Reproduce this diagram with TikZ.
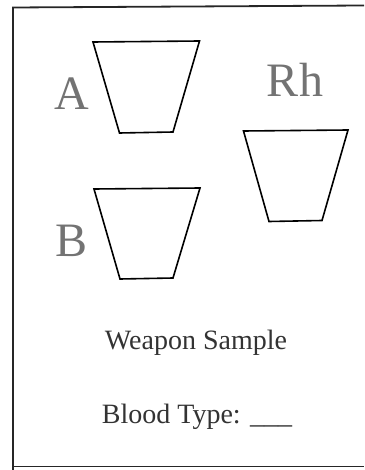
\documentclass[tikz,border=0pt]{standalone}
\usepackage{fontspec}
\setmainfont{Liberation Serif}
\begin{document}
\begin{tikzpicture}[x=1pt,y=-1pt,
  cup/.style={draw=black,line width=1.6pt,line join=miter},
  frame/.style={draw=black!85,line width=1.8pt},
  big/.style={anchor=base,inner sep=0pt,text=black!55,font=\fontsize{48}{48}\selectfont},
  lab/.style={anchor=base,inner sep=0pt,text=black!80,font=\fontsize{28}{28}\selectfont}]
\useasboundingbox (0,0) rectangle (364,470);
% frame
\draw[frame] (364,5.5) -- (13,7.5) -- (13,470);
\draw[frame] (13,466.5) -- (364,466.5);
% cups
\draw[cup] (93,42) -- (199.5,41) -- (173,132) -- (119.5,133) -- cycle;
\draw[cup] (94,189) -- (200,188) -- (173,278) -- (120,279) -- cycle;
\draw[cup] (243.5,131) -- (348,130) -- (322,220.5) -- (269,221.5) -- cycle;
% labels
\node[big] (la) at (72,110) {A};
\node[big] (lrh) at (295,97) {Rh};
\node[big] (lb) at (72,256) {B};
\node[lab] (ws) at (196,349) {Weapon Sample};
\node[lab] (bt) at (197,423) {Blood Type: \_\_\_};
\end{tikzpicture}
\end{document}
